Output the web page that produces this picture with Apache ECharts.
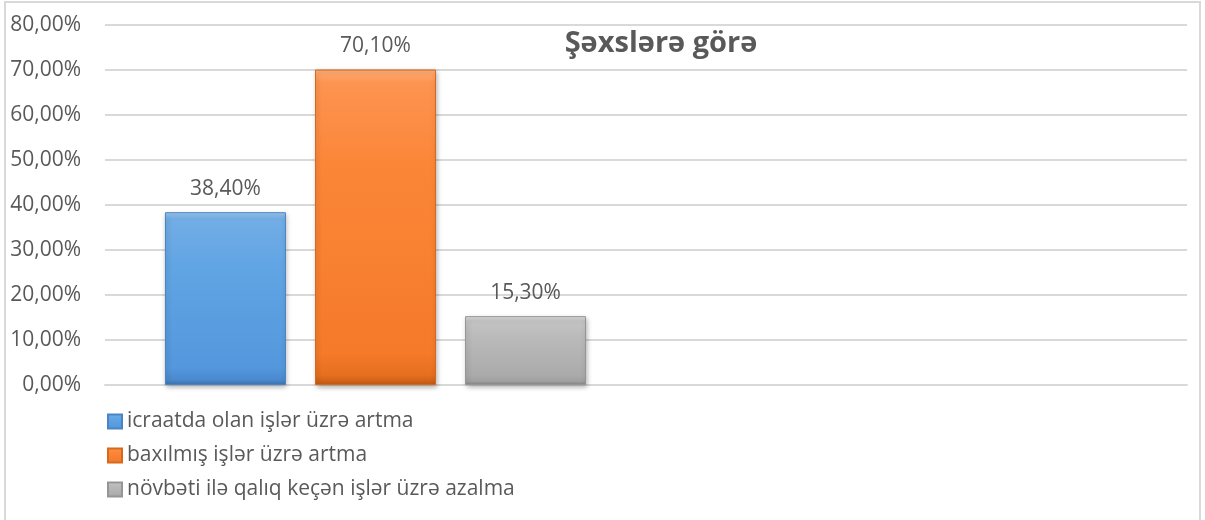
<!DOCTYPE html>
<html>
<head>
<meta charset="utf-8">
<script src="https://cdn.jsdelivr.net/npm/echarts@6/dist/echarts.min.js"></script>
<style>
  html, body { margin: 0; padding: 0; background: #fff; }
  #chart { width: 1205px; height: 520px; }
</style>
</head>
<body>
<div id="chart"></div>
<script>
// data
const categories = ["1", "2"];
const seriesNames = [
  "icraatda olan işlər üzrə artma",
  "baxılmış işlər üzrə artma",
  "növbəti ilə qalıq keçən işlər üzrə azalma"
];
const seriesValues = [
  [38.4, "-"],
  [70.1, "-"],
  [15.3, "-"]
];
const titleText = "Şəxslərə görə";

const fontFamily = "'Open Sans', sans-serif";
const textColor = "#595959";

function grad(stops) {
  return new echarts.graphic.LinearGradient(0, 0, 0, 1,
    stops.map(s => ({ offset: s[0], color: s[1] })));
}
const fills = [
  grad([[0, "#9ccaf2"], [0.04, "#72ade6"], [0.3, "#62a5e4"], [0.9, "#5497dc"], [0.97, "#4a89cf"], [1, "#3d74b0"]]),
  grad([[0, "#ffb07a"], [0.04, "#fd9451"], [0.3, "#fb8638"], [0.9, "#f57a2a"], [0.97, "#e56e1f"], [1, "#c25a14"]]),
  grad([[0, "#e2e2e2"], [0.07, "#c4c4c4"], [0.3, "#bababa"], [0.85, "#ababab"], [0.95, "#a0a0a0"], [1, "#828282"]])
];
const borders = ["#4a84c2", "#d8681c", "#959595"];

const pct = v => v.toFixed(2).replace(".", ",") + "%";

const chart = echarts.init(document.getElementById("chart"));
chart.setOption({
  animation: false,
  title: {
    text: titleText,
    left: 656,
    top: 24,
    textAlign: "center",
    textStyle: { fontFamily, fontSize: 29, fontWeight: "bold", color: textColor }
  },
  graphic: [{
    type: "rect",
    shape: { x: 5, y: 2, width: 1195, height: 540 },
    style: { fill: "none", stroke: "#d9d9d9", lineWidth: 2 },
    silent: true
  }],
  legend: {
    orient: "vertical",
    left: 102,
    top: 406,
    icon: "rect",
    itemWidth: 14,
    itemHeight: 14,
    itemGap: 13,
    textStyle: { fontFamily, fontSize: 21, color: textColor, lineHeight: 20 },
    data: seriesNames
  },
  grid: { left: 105, right: 18, top: 25, bottom: 135 },
  xAxis: {
    type: "category",
    data: categories,
    axisLine: { lineStyle: { color: "#d9d9d9", width: 2 } },
    axisTick: { show: false },
    axisLabel: { show: false }
  },
  yAxis: {
    type: "value",
    min: 0,
    max: 80,
    interval: 10,
    axisLine: { show: false },
    axisTick: { show: false },
    splitLine: { lineStyle: { color: "#d9d9d9", width: 2 } },
    axisLabel: {
      margin: 24,
      fontFamily, fontSize: 21, color: textColor,
      formatter: pct
    }
  },
  series: seriesNames.map((name, i) => ({
    name,
    type: "bar",
    data: seriesValues[i],
    barWidth: 121,
    barGap: "24%",
    itemStyle: {
      color: fills[i],
      borderColor: borders[i],
      borderWidth: 1,
      shadowBlur: 5,
      shadowColor: "rgba(0,0,0,0.3)",
      shadowOffsetX: 1,
      shadowOffsetY: 2
    },
    label: {
      show: true,
      position: "top",
      distance: 13,
      fontFamily, fontSize: 21, color: textColor,
      formatter: p => pct(p.value)
    }
  }))
});
</script>
</body>
</html>
